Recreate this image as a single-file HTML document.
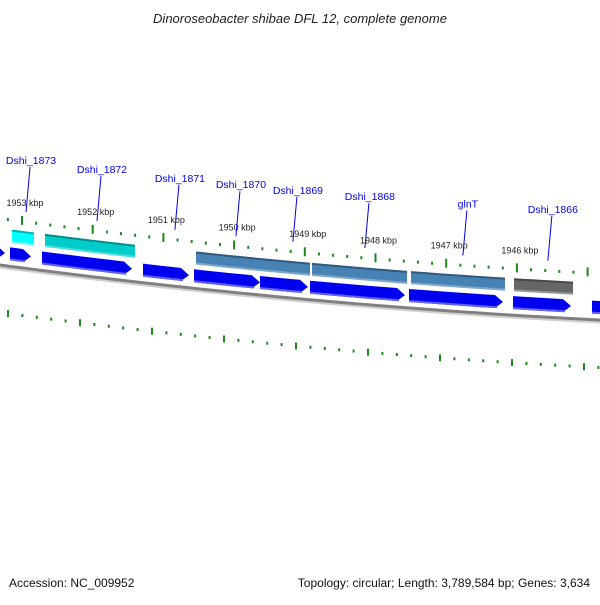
<!DOCTYPE html>
<html><head><meta charset="utf-8"><style>
body{margin:0;background:#fff;width:600px;height:600px;overflow:hidden;font-family:"Liberation Sans",sans-serif}
</style></head><body>
<svg id="map" width="600" height="600" xmlns="http://www.w3.org/2000/svg">
<rect width="600" height="600" fill="#fff"/>
<text x="300" y="23" text-anchor="middle" font-size="13" font-style="italic" fill="#222">Dinoroseobacter shibae DFL 12, complete genome</text>
<text x="9" y="587" font-size="12" fill="#111">Accession: NC_009952</text>
<text x="590" y="587" text-anchor="end" font-size="12" fill="#111">Topology: circular; Length: 3,789,584 bp; Genes: 3,634</text>
<g id="layer"></g>
</svg>
<script>
// data (kbp)
const tickKbp = [1954, 1953, 1952, 1951, 1950, 1949, 1948, 1947, 1946, 1945];
const tickLabels = ["", "1953 kbp", "1952 kbp", "1951 kbp", "1950 kbp", "1949 kbp", "1948 kbp", "1947 kbp", "1946 kbp", ""];
const geneStarts = [1953.877, 1953.17, 1952.717, 1951.289, 1950.567, 1949.634, 1948.926, 1947.526, 1946.055, 1944.938];
const geneEnds   = [1953.24, 1952.873, 1951.444, 1950.638, 1949.634, 1948.955, 1947.583, 1946.197, 1945.235, 1944.26];
const featStarts = [1953.141, 1952.675, 1950.539, 1949.605, 1948.898, 1947.498, 1946.041];
const featEnds   = [1952.830, 1951.402, 1949.605, 1948.926, 1947.554, 1946.168, 1945.206];
const featColors = ["#00ffff", "#00cccc", "#4682b4", "#4682b4", "#4682b4", "#4682b4", "#666666"];
const labelNames = ["Dshi_1873", "Dshi_1872", "Dshi_1871", "Dshi_1870", "Dshi_1869", "Dshi_1868", "glnT", "Dshi_1866"];
const labelKbp   = [1952.943, 1951.939, 1950.837, 1949.974, 1949.168, 1948.15, 1946.764, 1945.562];

const NS = "http://www.w3.org/2000/svg";
const layer = document.getElementById("layer");
const X = k => 22 + (1953 - k) * 70.7;
const XL = k => 8 + (1953 - k) * 72;
const bend = x => 0.0917 * x + 0.00007 * x * (600 - x);
const Y = (x, y) => y + bend(x);
function mk(tag, attrs) { const e = document.createElementNS(NS, tag); for (const k in attrs) e.setAttribute(k, attrs[k]); layer.appendChild(e); return e; }
function band(x1, x2, y1, y2) {
  const pts = [];
  for (let i = 0; i <= 6; i++) { const x = x1 + (x2 - x1) * i / 6; pts.push(x + "," + Y(x, y1)); }
  for (let i = 6; i >= 0; i--) { const x = x1 + (x2 - x1) * i / 6; pts.push(x + "," + Y(x, y2)); }
  return pts.join(" ");
}
function arrow(x1, x2, y1, y2) {
  const t = Math.max(x1, x2 - 8), pts = [];
  for (let i = 0; i <= 6; i++) { const x = x1 + (t - x1) * i / 6; pts.push(x + "," + Y(x, y1)); }
  pts.push(x2 + "," + Y(x2, (y1 + y2) / 2));
  for (let i = 6; i >= 0; i--) { const x = x1 + (t - x1) * i / 6; pts.push(x + "," + Y(x, y2)); }
  return pts.join(" ");
}
function curve(y, x1, x2) { let d = ""; for (let x = x1; x <= x2; x += 10) d += (d ? "L" : "M") + x + "," + Y(x, y); return d; }

// backbone
let e = mk("path", { d: curve(267, -10, 610), stroke: "#d0d0d0", "stroke-width": 3, fill: "none" });


e = mk("path", { d: curve(265, -10, 610), stroke: "#808080", "stroke-width": 3, fill: "none" });



// ticks
tickKbp.forEach((k, i) => {
  for (let s = 0; s < 5; s++) {
    const kk = k - s * 0.2;
    const x = X(kk), xl = XL(kk);
    const big = s === 0;
    if (x > -5 && x < 605) {
      const t = mk("line", { x1: x, x2: x, y1: Y(x, big ? 213 : 217), y2: Y(x, big ? 222 : 220), stroke: "#1a8a1a", "stroke-width": 2 });
      
      
    }
    if (xl > -5 && xl < 605) {
      const t = mk("line", { x1: xl, x2: xl, y1: Y(xl, big ? 309 : 311), y2: Y(xl, big ? 316 : 314), stroke: "#1a8a1a", "stroke-width": 2 });
      
      
    }
  }
  if (tickLabels[i]) {
    const x = X(k);
    const t = mk("text", { x: x + 3, y: Y(x, 203), "text-anchor": "middle", "font-size": 9, fill: "#222" });
    t.textContent = tickLabels[i];
    
    
  }
});

// genes (forward arrows)
geneStarts.forEach((s, i) => {
  const x1 = X(s), x2 = X(geneEnds[i]);
  let p = mk("polygon", { points: arrow(x1, x2, 246, 259), fill: "#0000ee" });
  
  
  p = mk("polygon", { points: band(x1, x2 - 6, 257, 259), fill: "#6060ff" });
  
  
});

// features (boxes)
featStarts.forEach((s, i) => {
  const x1 = X(s), x2 = X(featEnds[i]);
  let p = mk("polygon", { points: band(x1, x2, 228, 241), fill: featColors[i] });
  
  
  p = mk("polygon", { points: band(x1, x2, 228, 230), fill: "#000", "fill-opacity": 0.3 });
  
  
  p = mk("polygon", { points: band(x1, x2, 239, 241), fill: "#fff", "fill-opacity": 0.3 });
  
  
});

// labels
labelNames.forEach((n, i) => {
  const x = X(labelKbp[i]);
  const yb = 208.6 + bend(x);
  const l = mk("line", { x1: x, y1: yb, x2: x + 4, y2: yb - 45, stroke: "#0000ee", "stroke-width": 1 });
  
  
  const t = mk("text", { x: x + 5, y: yb - 48, "text-anchor": "middle", "font-size": 10.5, fill: "#0000ee" });
  t.textContent = n;
  
  
});
</script>
</body></html>
